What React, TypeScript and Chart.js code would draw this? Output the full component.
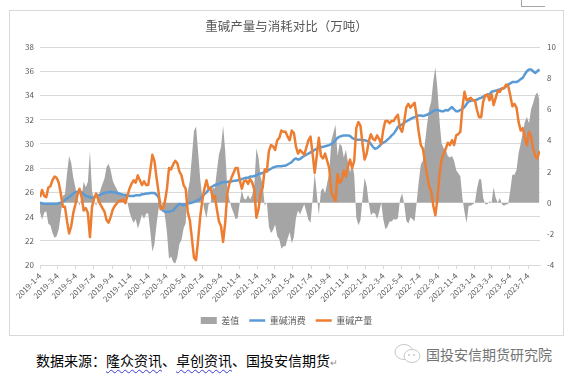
import React, { useEffect, useRef } from "react";
import { Chart, registerables } from "chart.js";

Chart.register(...registerables);

const FONT = "'Noto Sans CJK SC', 'Noto Sans', sans-serif";

// Weekly series starting 2019-1-4
const startDate = "2019-1-4";

const tickLabels = [
  "2019-1-4", "2019-3-4", "2019-5-4", "2019-7-4", "2019-9-4", "2019-11-4",
  "2020-1-4", "2020-3-4", "2020-5-4", "2020-7-4", "2020-9-4", "2020-11-4",
  "2021-1-4", "2021-3-4", "2021-5-4", "2021-7-4", "2021-9-4", "2021-11-4",
  "2022-1-4", "2022-3-4", "2022-5-4", "2022-7-4", "2022-9-4", "2022-11-4",
  "2023-1-4", "2023-3-4", "2023-5-4", "2023-7-4",
];

const axisEndDate = "2023-8-13";

// 重碱产量 (left axis)
const production = [
  25.6, 26.2, 25.7, 25.6, 26.4, 26.5, 27.0, 27.3, 27.2, 26.8,
  25.9, 24.8, 24.8, 23.6, 22.6, 23.2, 24.3, 25.0, 25.8, 26.3,
  25.6, 24.5, 24.7, 24.3, 22.3, 24.8, 25.5, 25.9, 25.4, 25.0,
  24.7, 24.4, 23.7, 23.5, 24.0, 24.6, 24.9, 25.1, 25.3, 25.3,
  25.4, 25.1, 25.7, 26.3, 26.7, 27.0, 26.8, 27.4, 27.0, 26.6,
  26.9, 26.6, 26.6, 27.8, 29.1, 28.6, 27.2, 26.0, 24.6, 24.7,
  25.2, 26.3, 28.0, 27.9, 28.3, 28.6, 28.4, 27.7, 27.4, 26.6,
  26.3, 24.4, 23.7, 22.2, 20.6, 20.4, 22.1, 24.0, 25.3, 26.3,
  27.0, 26.3, 26.4, 25.5, 25.7, 24.6, 23.6, 23.2, 21.9, 23.5,
  25.9, 26.7, 27.2, 27.6, 28.0, 28.0, 27.0, 26.3, 26.9, 27.0,
  26.7, 27.1, 26.8, 26.2, 23.9, 24.6, 25.9, 26.4, 27.9, 27.7,
  29.4, 29.9, 29.8, 29.5, 30.3, 30.5, 31.1, 31.0, 31.0, 30.6,
  30.3, 31.1, 30.9, 29.8, 29.2, 29.5, 29.3, 29.1, 29.7, 30.3,
  30.6, 29.2, 27.6, 29.0, 30.5, 29.0, 28.8, 29.2, 28.6, 28.0,
  26.0, 25.6, 25.3, 27.5, 26.8, 27.0, 27.8, 27.3, 28.1, 28.7,
  28.0, 28.6, 31.3, 31.8, 31.5, 30.0, 28.7, 29.2, 30.2, 30.8,
  30.4, 30.3, 30.7, 30.4, 30.0, 31.2, 31.9, 31.9, 31.7, 31.9,
  31.9, 32.2, 32.4, 31.3, 31.0, 31.8, 33.0, 33.3, 33.0, 33.2,
  33.4, 32.3, 31.0, 29.9, 29.6, 28.5, 27.4, 26.5, 26.1, 24.9,
  24.1, 25.5, 27.5, 28.7, 29.2, 29.6, 30.1, 29.9, 30.3, 29.9,
  30.7, 30.8, 31.0, 33.0, 34.3, 33.6, 33.7, 33.8, 33.6, 33.6,
  32.8, 32.2, 32.2, 33.5, 34.0, 34.1, 33.6, 34.1, 33.2, 33.8,
  34.4, 34.3, 34.6, 34.6, 34.9, 34.8, 34.0, 33.1, 33.3, 33.0,
  31.8, 31.1, 31.3, 30.5, 29.9, 31.0, 30.6, 29.6, 29.0, 28.8,
  29.4,
];

// 重碱消费 (left axis)
const consumption = [
  25.15, 25.1, 25.05, 25.05, 25.05, 25.05, 25.05, 25.05, 25.05, 25.1,
  25.15, 25.25, 25.35, 25.5, 25.6, 25.75, 25.9, 26.0, 26.05, 26.1,
  26.0, 25.85, 25.7, 25.65, 25.6, 25.55, 25.6, 25.7, 25.75, 25.8,
  25.9, 25.95, 26.0, 26.0, 26.05, 26.0, 26.0, 25.95, 25.9, 25.85,
  25.8, 25.75, 25.75, 25.7, 25.7, 25.7, 25.75, 25.75, 25.75, 25.85,
  25.85, 25.9, 25.9, 25.95, 25.95, 25.95, 25.8, 25.6, 24.8, 24.5,
  24.4, 24.4, 24.4, 24.45, 24.5, 24.7, 24.9, 25.05, 25.0, 24.95,
  25.0, 25.1, 25.1, 25.15, 25.2, 25.3, 25.35, 25.5, 25.65, 25.85,
  26.0, 26.2, 26.4, 26.5, 26.6, 26.65, 26.7, 26.8, 26.85, 26.85,
  26.85, 26.9, 26.9, 26.95, 26.95, 27.0, 27.0, 27.1, 27.15, 27.2,
  27.2, 27.3, 27.3, 27.35, 27.4, 27.5, 27.55, 27.6, 27.7, 27.75,
  27.85, 27.95, 28.05, 28.1, 28.15, 28.15, 28.15, 28.2, 28.2, 28.3,
  28.4, 28.5, 28.7, 28.8, 28.7, 28.75, 28.9, 29.0, 29.1, 29.2,
  29.3, 29.4, 29.5, 29.6, 29.7, 29.75, 29.75, 29.8, 29.85, 29.9,
  30.0, 30.1, 30.3, 30.5, 30.6, 30.65, 30.7, 30.7, 30.7, 30.65,
  30.5, 30.4, 30.35, 30.35, 30.35, 30.3, 30.3, 30.25, 30.2, 30.0,
  29.75, 29.6, 29.65, 29.8, 30.0, 30.1, 30.2, 30.35, 30.5, 30.7,
  30.85, 31.1, 31.4, 31.5, 31.6, 31.75, 31.85, 31.95, 32.05, 32.15,
  32.2, 32.3, 32.35, 32.35, 32.3, 32.35, 32.4, 32.5, 32.6, 32.7,
  32.8, 32.8, 32.75, 32.7, 32.7, 32.8, 32.75, 32.9, 33.05, 32.85,
  32.7, 32.7, 32.8, 32.9, 33.05, 33.3, 33.5, 33.55, 33.6, 33.6,
  33.65, 33.75, 33.8, 33.9, 34.0, 34.05, 34.1, 34.3, 34.35, 34.4,
  34.45, 34.5, 34.55, 34.6, 34.75, 34.9, 35.0, 35.1, 35.1, 35.1,
  35.2, 35.35, 35.45, 35.75, 36.0, 36.15, 36.15, 36.0, 35.85, 36.0,
  36.15,
];

// 差值 (right axis)
const difference = [
  -0.6, -1.1, -0.65, -0.55, -1.35, -1.45, -1.95, -2.25, -2.15, -1.7,
  -0.75, 0.45, 0.55, 1.9, 3.0, 2.55, 1.6, 1.0, 0.25, -0.2,
  0.4, 1.35, 1.0, 1.35, 3.3, 0.75, 0.1, -0.2, 0.35, 0.8,
  1.2, 1.55, 2.3, 2.5, 2.05, 1.4, 1.1, 0.85, 0.6, 0.55,
  0.4, 0.65, 0.05, -0.6, -1.0, -1.3, -1.05, -1.65, -1.25, -0.75,
  -1.05, -0.7, -0.7, -1.85, -3.15, -2.65, -1.4, -0.4, 0.2, -0.2,
  -0.8, -1.9, -3.6, -3.45, -3.8, -3.9, -3.5, -2.65, -2.4, -1.65,
  -1.3, 0.7, 1.4, 2.95, 4.6, 4.9, 3.25, 1.5, 0.35, -0.45,
  -1.0, -0.1, 0.0, 1.0, 0.9, 2.05, 3.1, 3.6, 4.95, 3.35,
  0.95, 0.2, -0.3, -0.65, -1.05, -1.0, 0.0, 0.8, 0.25, 0.2,
  0.5, 0.2, 0.5, 1.15, 3.5, 2.9, 1.65, 1.2, -0.2, 0.05,
  -1.55, -1.95, -1.75, -1.4, -2.15, -2.35, -2.95, -2.8, -2.8, -2.3,
  -1.9, -2.6, -2.2, -1.0, -0.5, -0.75, -0.4, -0.1, -0.6, -1.1,
  -1.3, 0.2, 1.9, 0.6, -0.8, 0.75, 0.95, 0.6, 1.25, 1.9,
  4.0, 4.5, 5.0, 3.0, 3.8, 3.65, 2.9, 3.4, 2.6, 1.95,
  2.5, 1.8, -0.95, -1.45, -1.15, 0.3, 1.6, 1.05, 0.0, -0.8,
  -0.65, -0.7, -1.05, -0.6, 0.0, -1.1, -1.7, -1.55, -1.2, -1.2,
  -1.05, -1.1, -1.0, 0.2, 0.6, -0.05, -1.15, -1.35, -0.95, -1.05,
  -1.2, 0.0, 1.35, 2.45, 2.7, 3.85, 5.0, 6.0, 6.5, 7.8,
  8.7, 7.3, 5.25, 3.8, 3.5, 3.4, 3.0, 2.9, 3.0, 2.7,
  2.1, 1.9, 1.7, 0.3, -0.6, -1.3, -0.2, -0.2, -0.1, 0.0,
  0.9, 1.5, 1.5, 0.3, -0.1, -0.1, 0.1, 0.0, 1.0, 0.3,
  0.0, 0.3, -0.1, -0.2, -0.1, -0.1, 0.8, 1.8, 1.8, 2.1,
  3.2, 3.8, 4.5, 5.2, 5.5, 5.1, 6.0, 6.4, 6.9, 7.1,
  6.6,
];

const seriesNames = ["差值", "重碱消费", "重碱产量"];
const seriesColors = ["#a5a5a5", "#5b9bd5", "#ed7d31"];

function dayOf(label: string): number {
  const [y, m, d] = label.split("-").map(Number);
  const [y0, m0, d0] = startDate.split("-").map(Number);
  return Math.round((Date.UTC(y, m - 1, d) - Date.UTC(y0, m0 - 1, d0)) / 86400000);
}

const tickDays = tickLabels.map(dayOf);
const toPoints = (arr: number[]) => arr.map((v, i) => ({ x: i * 7, y: v }));

const PLOT_BOTTOM = 254;

export default function App() {
  const ref = useRef<HTMLCanvasElement | null>(null);

  useEffect(() => {
    if (!ref.current) return;
    Chart.defaults.font.family = FONT;
    const chart = new Chart(ref.current, {
      type: "line",
      data: {
        datasets: [
          {
            label: seriesNames[0],
            data: toPoints(difference),
            yAxisID: "y1",
            fill: "origin",
            backgroundColor: seriesColors[0],
            borderColor: "rgba(0,0,0,0)",
            borderWidth: 0,
            pointRadius: 0,
            tension: 0,
            order: 3,
          },
          {
            label: seriesNames[1],
            data: toPoints(consumption),
            yAxisID: "y",
            borderColor: seriesColors[1],
            backgroundColor: seriesColors[1],
            borderWidth: 2.5,
            pointRadius: 0,
            tension: 0,
            fill: false,
            borderJoinStyle: "round",
            order: 2,
          },
          {
            label: seriesNames[2],
            data: toPoints(production),
            yAxisID: "y",
            borderColor: seriesColors[2],
            backgroundColor: seriesColors[2],
            borderWidth: 2.5,
            pointRadius: 0,
            tension: 0,
            fill: false,
            borderJoinStyle: "round",
            order: 1,
          },
        ],
      },
      options: {
        animation: false,
        responsive: false,
        maintainAspectRatio: false,
        devicePixelRatio: 1,
        layout: { padding: { left: 0, right: 0, top: 0, bottom: 0 } },
        plugins: {
          tooltip: { enabled: false },
          title: {
            display: true,
            text: "重碱产量与消耗对比（万吨）",
            color: "#595959",
            font: { size: 12.5, family: FONT, weight: "normal" },
            padding: { top: 8, bottom: 13 },
          },
          legend: {
            position: "bottom",
            labels: {
              usePointStyle: true,
              pointStyleWidth: 16,
              boxHeight: 7,
              padding: 10,
              color: "#595959",
              font: { size: 9, family: FONT },
              generateLabels: () =>
                seriesNames.map((name, i) => ({
                  text: name,
                  fillStyle: seriesColors[i],
                  strokeStyle: seriesColors[i],
                  lineWidth: i === 0 ? 0 : 2.5,
                  pointStyle: i === 0 ? "rect" : "line",
                  hidden: false,
                  datasetIndex: i,
                  fontColor: "#595959",
                })),
            },
          },
        },
        scales: {
          x: {
            type: "linear",
            min: 0,
            max: dayOf(axisEndDate),
            afterBuildTicks: (scale: any) => {
              scale.ticks = tickDays.map((v) => ({ value: v }));
            },
            afterFit: (scale: any) => {
              const lg = scale.chart.legend;
              const lh = lg ? lg.height : 0;
              scale.height = scale.chart.height - lh - PLOT_BOTTOM;
            },
            ticks: {
              autoSkip: false,
              minRotation: 45,
              maxRotation: 45,
              padding: 2,
              color: "#595959",
              font: { size: 8, family: FONT },
              callback: (_v: any, i: number) => tickLabels[i],
            },
            grid: {
              drawOnChartArea: false,
              drawTicks: true,
              tickLength: 4,
              color: "#d9d9d9",
            },
            border: { display: true, color: "#d9d9d9" },
          },
          y: {
            position: "left",
            min: 20,
            max: 38,
            afterFit: (scale: any) => {
              scale.width = 30;
            },
            ticks: {
              stepSize: 2,
              padding: 6,
              color: "#595959",
              font: { size: 8, family: FONT },
            },
            grid: { color: "#d9d9d9", drawTicks: false, lineWidth: 1 },
            border: { display: false },
          },
          y1: {
            position: "right",
            min: -4,
            max: 10,
            afterFit: (scale: any) => {
              scale.width = 23;
            },
            ticks: {
              stepSize: 2,
              padding: 7,
              color: "#595959",
              font: { size: 8, family: FONT },
            },
            grid: { display: false, drawTicks: false },
            border: { display: false },
          },
        },
      },
    } as any);
    return () => chart.destroy();
  }, []);

  const wavy: React.CSSProperties = {
    textDecorationLine: "underline",
    textDecorationStyle: "wavy",
    textDecorationColor: "#3b3bd6",
    textDecorationThickness: "1px",
    textUnderlineOffset: "3px",
  };

  return (
    <div
      style={{
        position: "absolute",
        left: 0,
        top: 0,
        width: 569,
        height: 379,
        background: "#ffffff",
        overflow: "hidden",
        fontFamily: FONT,
      }}
    >
      <div style={{ position: "absolute", left: 521, top: 0, width: 1, height: 7, background: "#a6a6a6" }} />
      <div style={{ position: "absolute", left: 521, top: 6, width: 24, height: 1, background: "#a6a6a6" }} />
      <div
        style={{
          position: "absolute",
          left: 9,
          top: 10,
          width: 553,
          height: 324,
          border: "1px solid #d9d9d9",
        }}
      >
        <canvas ref={ref} width={553} height={324} style={{ display: "block", width: 553, height: 324 }} />
      </div>
      <div
        style={{
          position: "absolute",
          left: 36,
          top: 351,
          fontSize: 14,
          lineHeight: "18px",
          color: "#000",
          whiteSpace: "nowrap",
        }}
      >
        数据来源：<span style={wavy}>隆众资讯</span>、<span style={wavy}>卓创资讯</span>、国投安信期货
        <span style={{ color: "#8c8c8c", fontSize: 9 }}>↵</span>
      </div>
      <svg
        style={{ position: "absolute", left: 393, top: 342 }}
        width={30}
        height={24}
        viewBox="0 0 30 24"
      >
        <ellipse cx={11} cy={10} rx={9} ry={7.5} fill="none" stroke="#c8c8c8" strokeWidth={1} />
        <ellipse cx={19} cy={14} rx={8} ry={6.5} fill="#ffffff" stroke="#c8c8c8" strokeWidth={1} />
        <circle cx={16} cy={13} r={1} fill="#c8c8c8" />
        <circle cx={21} cy={13} r={1} fill="#c8c8c8" />
      </svg>
      <div
        style={{
          position: "absolute",
          left: 426,
          top: 345,
          fontSize: 14,
          lineHeight: "18px",
          color: "#737373",
          whiteSpace: "nowrap",
        }}
      >
        国投安信期货研究院
      </div>
    </div>
  );
}
